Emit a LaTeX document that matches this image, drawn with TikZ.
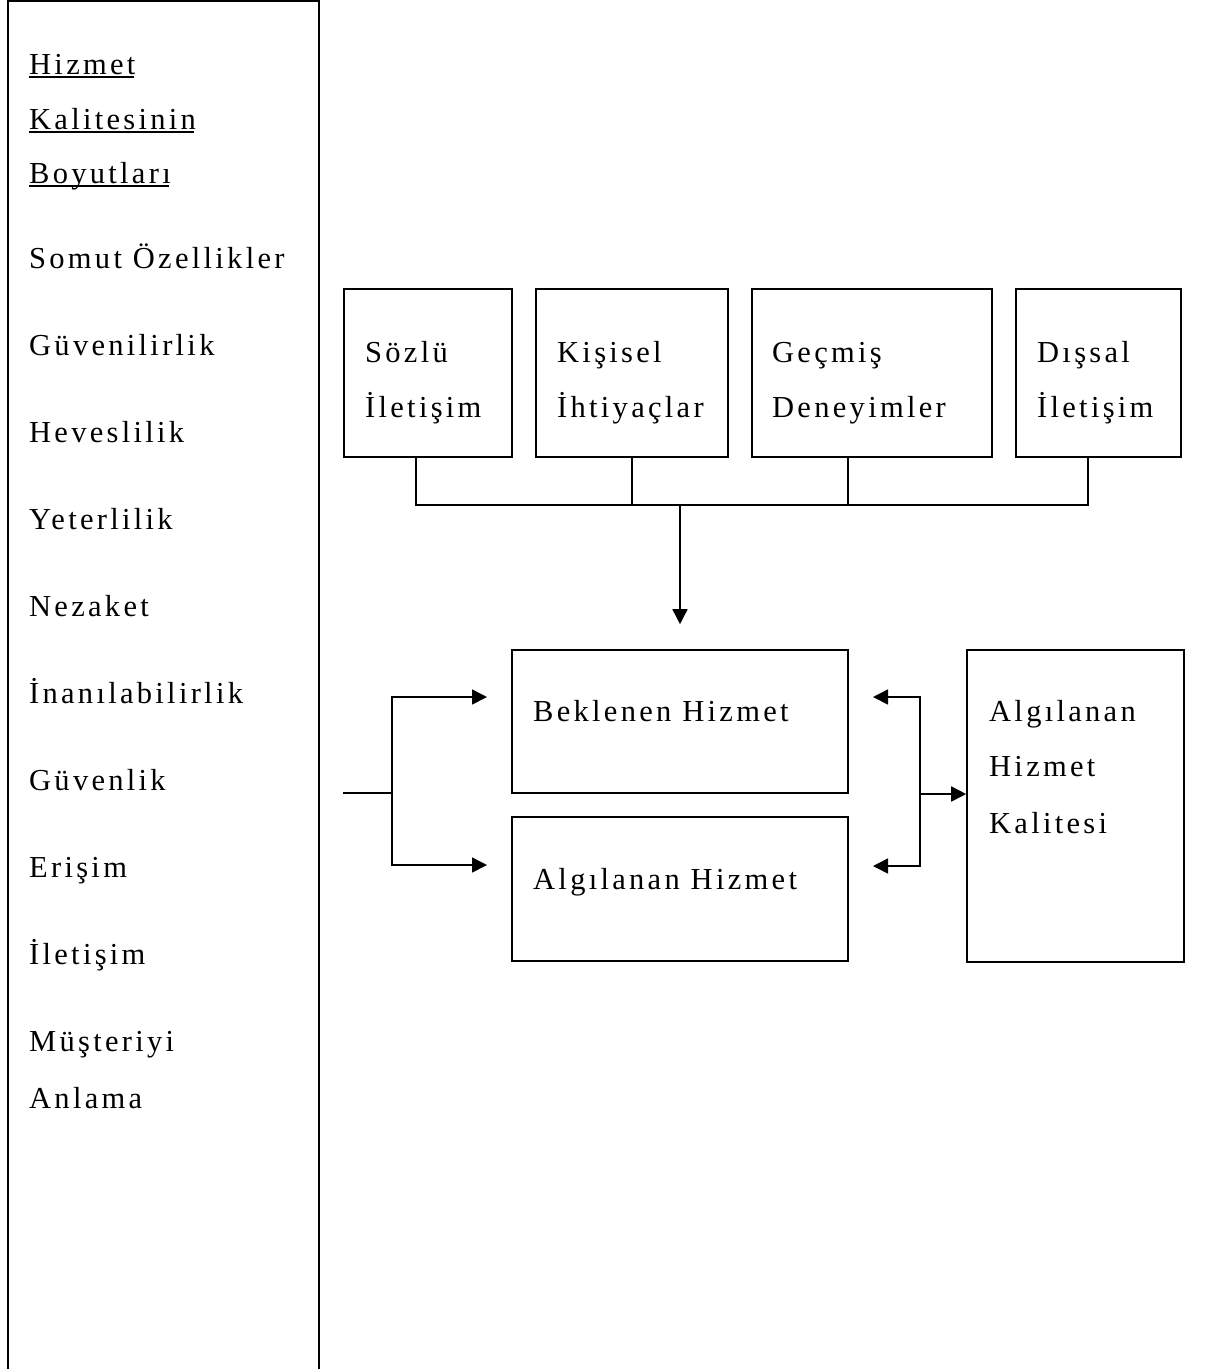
\documentclass[tikz,border=0pt]{standalone}
\usepackage{fontspec}
\setmainfont{Liberation Serif}[LetterSpace=10.8]
\usetikzlibrary{arrows.meta}
\begin{document}
\begin{tikzpicture}[x=1pt,y=-1pt,
  box/.style={draw, line width=1.6pt, inner sep=0pt, rectangle},
  txt/.style={inner sep=0pt, anchor=base west, font=\fontsize{30.5}{36}\selectfont},
  conn/.style={line width=1.6pt},
  arr/.style={conn, -{Triangle[length=15pt,width=15pt]}},
  uline/.style={line width=1.8pt}]
\useasboundingbox (0,0) rectangle (1223,1369);
% left panel
\node[box, line width=2.4pt, minimum width=311pt, minimum height=1369pt] (panel) at (163.5,685.5) {};
\node[txt] (h1) at (29,74) {Hizmet};
\node[txt] (h2) at (29,129) {Kalitesinin};
\node[txt] (h3) at (29,183) {Boyutları};
\draw[uline] ([yshift=-3pt]h1.base west) -- ([yshift=-3pt,xshift=-2pt]h1.base east);
\draw[uline] ([yshift=-3pt]h2.base west) -- ([yshift=-3pt,xshift=-2pt]h2.base east);
\draw[uline] ([yshift=-3pt]h3.base west) -- ([yshift=-3pt,xshift=-2pt]h3.base east);
\node[txt] (d1) at (29,268) {Somut Özellikler};
\node[txt] (d2) at (29,355) {Güvenilirlik};
\node[txt] (d3) at (29,442) {Heveslilik};
\node[txt] (d4) at (29,529) {Yeterlilik};
\node[txt] (d5) at (29,616) {Nezaket};
\node[txt] (d6) at (29,703) {İnanılabilirlik};
\node[txt] (d7) at (29,790) {Güvenlik};
\node[txt] (d8) at (29,877) {Erişim};
\node[txt] (d9) at (29,964) {İletişim};
\node[txt] (d10) at (29,1051) {Müşteriyi};
\node[txt] (d11) at (29,1108) {Anlama};
% top boxes
\node[box, minimum width=168pt, minimum height=168pt] (soz) at (428,373) {};
\node[box, minimum width=192pt, minimum height=168pt] (kis) at (632,373) {};
\node[box, minimum width=240pt, minimum height=168pt] (gec) at (872,373) {};
\node[box, minimum width=165pt, minimum height=168pt] (dis) at (1098.5,373) {};
\node[txt] (t1a) at (365,362) {Sözlü};
\node[txt] (t1b) at (365,417) {İletişim};
\node[txt] (t2a) at (557,362) {Kişisel};
\node[txt] (t2b) at (557,417) {İhtiyaçlar};
\node[txt] (t3a) at (772,362) {Geçmiş};
\node[txt] (t3b) at (772,417) {Deneyimler};
\node[txt] (t4a) at (1037,362) {Dışsal};
\node[txt] (t4b) at (1037,417) {İletişim};
% middle boxes
\node[box, minimum width=336pt, minimum height=143pt] (bek) at (680,721.5) {};
\node[box, minimum width=336pt, minimum height=144pt] (alg) at (680,889) {};
\node[box, minimum width=217pt, minimum height=312pt] (kal) at (1075.5,806) {};
\node[txt] (tb) at (533,721) {Beklenen Hizmet};
\node[txt] (ta) at (533,889) {Algılanan Hizmet};
\node[txt] (tk1) at (989,721) {Algılanan};
\node[txt] (tk2) at (989,776) {Hizmet};
\node[txt] (tk3) at (989,833) {Kalitesi};
% collector bar
\coordinate (bar) at (680,505);
\coordinate (s1) at (416,457);
\coordinate (s3) at (848,457);
\coordinate (s4) at (1088,457);
\draw[conn] (s1) -- (s1 |- bar) -- (s4 |- bar) -- (s4);
\draw[conn] (kis.south) -- (kis.south |- bar);
\draw[conn] (s3) -- (s3 |- bar);
\draw[arr] (bar) -- ([yshift=25pt]bek.north);
% left branch
\coordinate (inL) at (343,793);
\coordinate (brL) at (392,793);
\coordinate (brT) at (392,697);
\coordinate (brB) at (392,865);
\coordinate (tipT) at (487,697);
\coordinate (tipB) at (487,865);
\draw[conn] (inL) -- (brL);
\draw[arr] (brL) -- (brT) -- (tipT);
\draw[arr] (brL) -- (brB) -- (tipB);
% right branch
\coordinate (brR) at (920,794);
\coordinate (rT) at (920,697);
\coordinate (rB) at (920,866);
\coordinate (rtipT) at (873,697);
\coordinate (rtipB) at (873,866);
\draw[arr] (brR) -- (rT) -- (rtipT);
\draw[arr] (brR) -- (rB) -- (rtipB);
\draw[arr] (brR) -- (kal.west |- brR);
\end{tikzpicture}
\end{document}
